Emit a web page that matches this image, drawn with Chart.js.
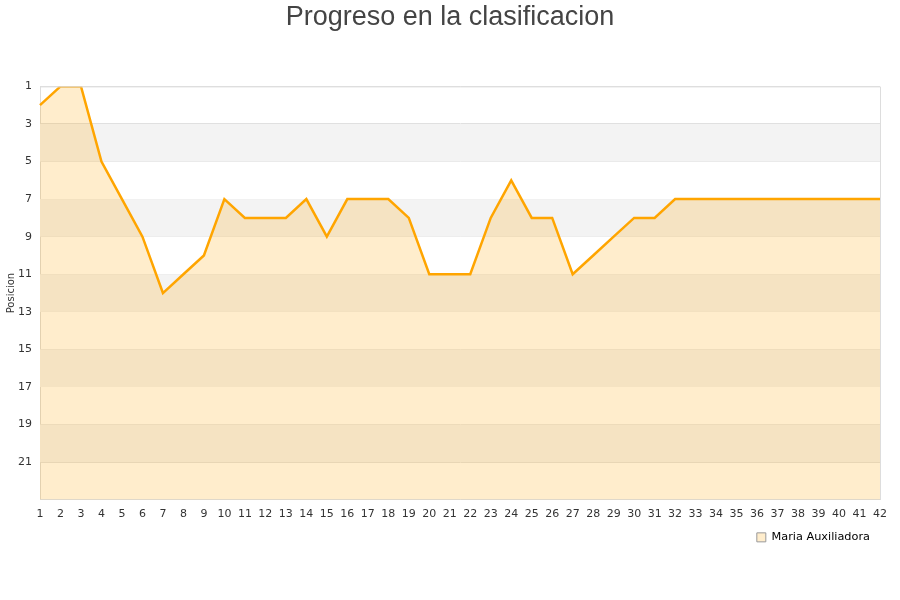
<!DOCTYPE html>
<html>
<head>
<meta charset="utf-8">
<script src="https://cdn.jsdelivr.net/npm/chart.js@4"></script>
<style>
html,body{margin:0;padding:0;background:#fff;}
#wrap{width:900px;height:600px;}
</style>
</head>
<body>
<div id="wrap"><canvas id="c" width="900" height="600"></canvas></div>
<script>
const jornadas = ['1','2','3','4','5','6','7','8','9','10','11','12','13','14','15','16','17','18','19','20','21','22','23','24','25','26','27','28','29','30','31','32','33','34','35','36','37','38','39','40','41','42'];
const posiciones = [2,1,1,5,7,9,12,11,10,7,8,8,8,7,9,7,7,7,8,11,11,11,8,6,8,8,11,10,9,8,8,7,7,7,7,7,7,7,7,7,7,7];
const equipo = 'Maria Auxiliadora';
const yMin = 1, yMax = 23, yStep = 2;

const bandPlugin = {
  id: 'bands',
  beforeDatasetsDraw(chart) {
    const ctx = chart.ctx, y = chart.scales.y, a = chart.chartArea;
    ctx.save();
    ctx.fillStyle = '#f3f3f3';
    for (let v = yMin + yStep; v < yMax; v += 2 * yStep) {
      const p1 = y.getPixelForValue(v), p2 = y.getPixelForValue(Math.min(v + yStep, yMax));
      ctx.fillRect(a.left, Math.min(p1, p2), a.right - a.left, Math.abs(p2 - p1));
    }
    ctx.restore();
  }
};

new Chart(document.getElementById('c'), {
  type: 'line',
  data: {
    labels: jornadas,
    datasets: [{
      label: equipo,
      data: posiciones,
      borderColor: '#ffa500',
      backgroundColor: 'rgba(255,165,0,0.2)',
      borderWidth: 2.5,
      pointRadius: 0,
      tension: 0,
      fill: {value: yMax}
    }]
  },
  options: {
    responsive: false,
    animation: false,
    layout: {padding: {left: 5, right: 5, top: 0, bottom: 47}},
    plugins: {
      title: {
        display: true,
        text: 'Progreso en la clasificacion',
        color: '#444',
        font: {family: 'Liberation Sans, Arial, sans-serif', size: 27, weight: 'normal'},
        padding: {top: 1, bottom: 53}
      },
      legend: {
        position: 'bottom',
        align: 'end',
        fullSize: false,
        labels: {
          boxWidth: 9, boxHeight: 9,
          color: '#222',
          font: {family: 'DejaVu Sans', size: 11.3},
          generateLabels(chart) {
            return [{text: equipo, fillStyle: 'rgba(255,165,0,0.2)', strokeStyle: '#999', lineWidth: 1, hidden: false, datasetIndex: 0}];
          }
        }
      },
      tooltip: {enabled: false}
    },
    scales: {
      x: {
        offset: false,
        grid: {display: false, drawTicks: false},
        border: {color: '#ddd'},
        ticks: {autoSkip: false, maxRotation: 0, color: '#333', font: {family: 'DejaVu Sans', size: 11}, padding: 8},
        afterFit(s) { s.height = 22; }
      },
      y: {
        reverse: true,
        min: yMin, max: yMax,
        grid: {color: '#e0e0e0', drawTicks: false},
        border: {color: '#ddd'},
        ticks: {stepSize: yStep, color: '#333', font: {family: 'DejaVu Sans', size: 11}, padding: 8,
          callback: v => (v === yMax ? '' : v)},
        title: {display: true, text: 'Posicion', color: '#333', font: {family: 'DejaVu Sans', size: 10}, padding: 0},
        afterFit(s) { s.width = 35; }
      },
      yr: {
        position: 'right',
        display: true,
        grid: {display: false, drawTicks: false},
        border: {display: false},
        ticks: {display: false},
        afterFit(s) { s.width = 15; }
      }
    }
  },
  plugins: [bandPlugin, {
    id: 'frame',
    afterDraw(chart) {
      const c = chart.ctx, a = chart.chartArea;
      c.save(); c.strokeStyle = '#ddd'; c.lineWidth = 1;
      c.beginPath(); c.moveTo(a.left, a.top + 0.5); c.lineTo(a.right + 0.5, a.top + 0.5); c.lineTo(a.right + 0.5, a.bottom); c.stroke();
      c.restore();
    }
  }]
});
</script>
</body>
</html>
